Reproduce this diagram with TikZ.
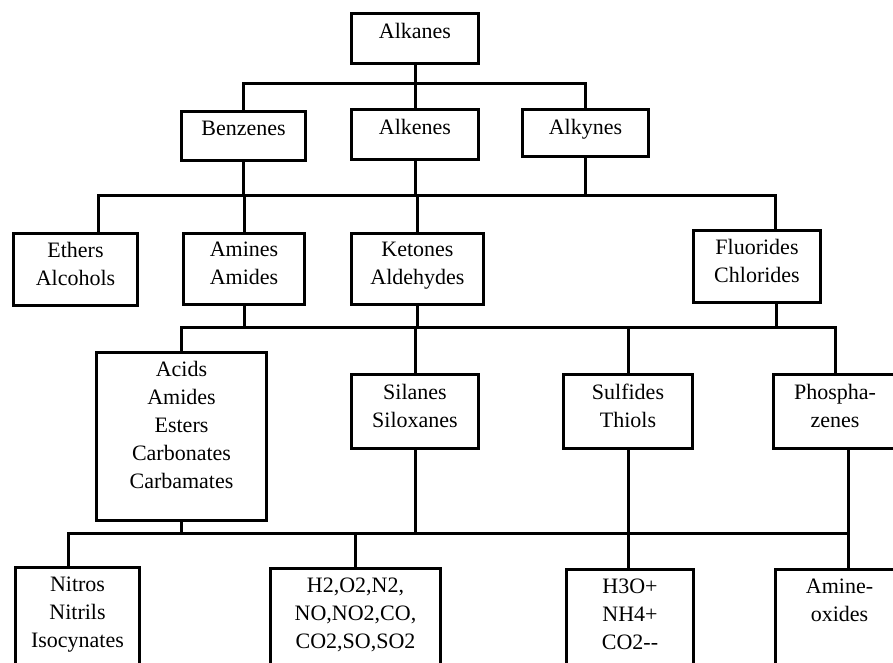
\documentclass[tikz,border=0pt]{standalone}
\usepackage{fontspec}
\setmainfont{Liberation Serif}
\usetikzlibrary{calc}
\begin{document}
\begin{tikzpicture}[x=1pt,y=-1pt,
  box/.style={draw, line width=3pt, rectangle, inner sep=0pt, anchor=north west},
  txt/.style={anchor=north, inner sep=0pt, align=center, font=\fontsize{22pt}{28pt}\selectfont},
  conn/.style={line width=3pt, line join=miter}]
\clip (0,0) rectangle (893,663);
\fill[white] (0,0) rectangle (893,663);
% boxes
\node[box, minimum width=127pt, minimum height=50pt] (alkanes) at (350,12) {};
\node[box, minimum width=124pt, minimum height=49pt] (benzenes) at (180,110) {};
\node[box, minimum width=127pt, minimum height=50pt] (alkenes) at (350,108) {};
\node[box, minimum width=126pt, minimum height=47pt] (alkynes) at (521,108) {};
\node[box, minimum width=124pt, minimum height=72pt] (ethers) at (12,232) {};
\node[box, minimum width=121pt, minimum height=71pt] (amines) at (182,232) {};
\node[box, minimum width=132pt, minimum height=71pt] (ketones) at (350,232) {};
\node[box, minimum width=127pt, minimum height=72pt] (fluorides) at (692,229) {};
\node[box, minimum width=170pt, minimum height=168pt] (acids) at (95,351) {};
\node[box, minimum width=127pt, minimum height=74pt] (silanes) at (350,373) {};
\node[box, minimum width=129pt, minimum height=74pt] (sulfides) at (562,373) {};
\node[box, minimum width=123pt, minimum height=74pt] (phospha) at (772,373) {};
\node[box, minimum width=124pt, minimum height=114pt] (nitros) at (14,566) {};
\node[box, minimum width=170pt, minimum height=113pt] (gases) at (269,567) {};
\node[box, minimum width=127pt, minimum height=112pt] (ions) at (565,568) {};
\node[box, minimum width=128pt, minimum height=112pt] (amine) at (774,568) {};
% texts
\node[txt] (alkanes-t) at ($(alkanes.north)+(0,11)$) {Alkanes};
\node[txt] (benzenes-t) at ($(benzenes.north)+(0,11)$) {Benzenes};
\node[txt] (alkenes-t) at ($(alkenes.north)+(0,11)$) {Alkenes};
\node[txt] (alkynes-t) at ($(alkynes.north)+(0,11)$) {Alkynes};
\node[txt] (ethers-t) at ($(ethers.north)+(0,10)$) {Ethers\\Alcohols};
\node[txt] (amines-t) at ($(amines.north)+(0,10)$) {Amines\\Amides};
\node[txt] (ketones-t) at ($(ketones.north)+(0,10)$) {Ketones\\Aldehydes};
\node[txt] (fluorides-t) at ($(fluorides.north)+(0,10)$) {Fluorides\\Chlorides};
\node[txt] (acids-t) at ($(acids.north)+(0,10.5)$) {Acids\\Amides\\Esters\\Carbonates\\Carbamates};
\node[txt] (silanes-t) at ($(silanes.north)+(0,11)$) {Silanes\\Siloxanes};
\node[txt] (sulfides-t) at ($(sulfides.north)+(0,11)$) {Sulfides\\Thiols};
\node[txt] (phospha-t) at ($(phospha.north)+(0,11)$) {Phospha-\\zenes};
\node[txt] (nitros-t) at ($(nitros.north)+(0,11)$) {Nitros\\Nitrils\\Isocynates};
\node[txt] (gases-t) at ($(gases.north)+(0,11)$) {H2,O2,N2,\\NO,NO2,CO,\\CO2,SO,SO2};
\node[txt] (ions-t) at ($(ions.north)+(0,10.5)$) {H3O+\\NH4+\\CO2-{}-};
\node[txt] (amine-t) at ($(amine.north)+(0,10.5)$) {Amine-\\oxides};
% bus levels
\coordinate (b1) at (0,84);
\coordinate (b2) at (0,195);
\coordinate (b3) at (0,327);
\coordinate (b4) at (0,533);
% level 1
\draw[conn] (alkanes.south) -- (alkanes.south |- b1);
\draw[conn] (benzenes.north) -- (benzenes.north |- b1) -- (alkynes.north |- b1) -- (alkynes.north);
\draw[conn] (alkenes.north) -- (alkenes.north |- b1);
% level 2
\coordinate (ethin) at ($(ethers.north)+(23,0)$);
\coordinate (fluin) at ($(fluorides.north)+(18,0)$);
\draw[conn] (benzenes.south) -- (benzenes.south |- b2);
\draw[conn] (alkenes.south) -- (alkenes.south |- b2);
\draw[conn] (alkynes.south) -- (alkynes.south |- b2);
\draw[conn] (ethin) -- (ethin |- b2) -- (fluin |- b2) -- (fluin);
\draw[conn] (amines.north) -- (amines.north |- b2);
\draw[conn] (ketones.north) -- (ketones.north |- b2);
% level 3
\coordinate (fluout) at ($(fluorides.south)+(19,0)$);
\draw[conn] (amines.south) -- (amines.south |- b3);
\draw[conn] (ketones.south) -- (ketones.south |- b3);
\draw[conn] (fluout) -- (fluout |- b3);
\draw[conn] (acids.north) -- (acids.north |- b3) -- (phospha.north |- b3) -- (phospha.north);
\draw[conn] (silanes.north) -- (silanes.north |- b3);
\draw[conn] (sulfides.north) -- (sulfides.north |- b3);
% level 4
\coordinate (phout) at ($(phospha.south)+(13.5,0)$);
\coordinate (nitin) at ($(nitros.north)+(-9,0)$);
\draw[conn] (acids.south) -- (acids.south |- b4);
\draw[conn] (silanes.south) -- (silanes.south |- b4);
\draw[conn] (sulfides.south) -- (sulfides.south |- ions.north);
\draw[conn] (nitin) -- (nitin |- b4) -- (phout |- b4);
\draw[conn] (phout) -- (phout |- amine.north);
\draw[conn] (gases.north) -- (gases.north |- b4);
\end{tikzpicture}
\end{document}
